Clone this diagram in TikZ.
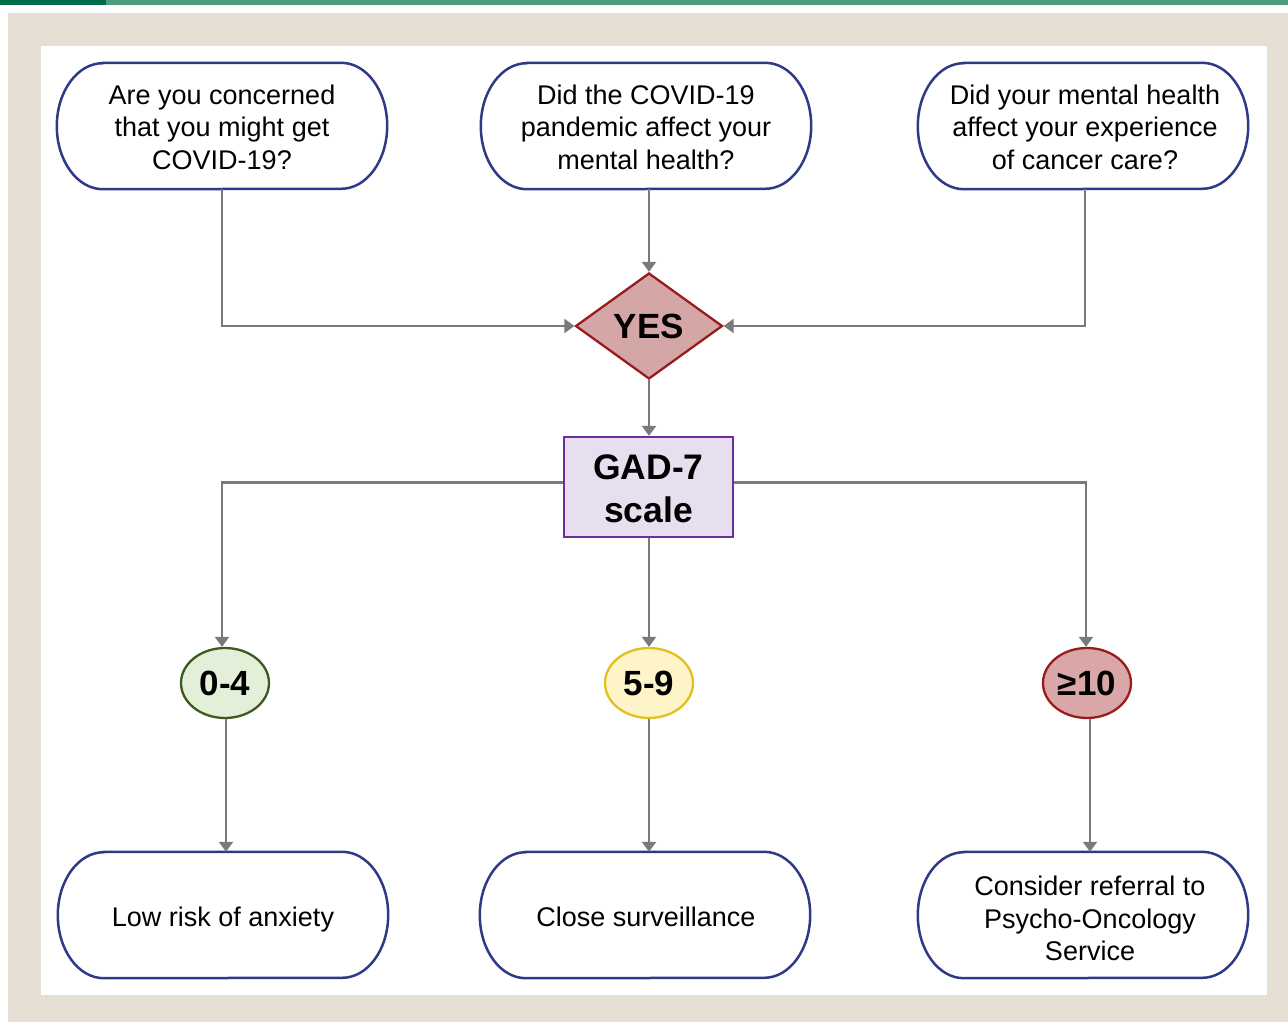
\documentclass[tikz,border=0pt]{standalone}
\usepackage{fontspec}
\setmainfont{Liberation Sans}
\usetikzlibrary{shapes.geometric,arrows.meta}
\definecolor{beige}{RGB}{230,224,212}
\definecolor{dkgreen}{RGB}{0,107,71}
\definecolor{ltgreen}{RGB}{77,156,127}
\definecolor{navy}{RGB}{47,58,135}
\definecolor{conngray}{RGB}{122,122,122}
\definecolor{dredfill}{RGB}{212,166,166}
\definecolor{dred}{RGB}{154,27,27}
\definecolor{gadfill}{RGB}{231,222,240}
\definecolor{gadline}{RGB}{107,47,160}
\definecolor{gfill}{RGB}{227,239,217}
\definecolor{gline}{RGB}{61,90,30}
\definecolor{yfill}{RGB}{253,244,200}
\definecolor{yline}{RGB}{226,192,31}
\definecolor{rfill}{RGB}{217,167,167}
\tikzset{
  qbox/.style={rectangle,draw=none,minimum width=330pt,minimum height=126pt,inner sep=0pt},
  qtext/.style={inner sep=0pt,align=center,font=\fontsize{27}{32.5}\selectfont},
  stext/.style={inner sep=0pt,anchor=base,font=\fontsize{27}{32.5}\selectfont},
  conn/.style={draw=conngray,line width=2.3pt,-{Triangle[width=14pt,length=10pt]}},
  stadline/.style={draw=navy,line width=2.5pt,fill=white},
  score/.style={ellipse,minimum width=88pt,minimum height=70pt,inner sep=0pt,line width=2.3pt,
    font=\fontsize{35}{40}\selectfont\bfseries},
}
\newcommand{\stadium}[1]{%
  \path[stadline] ([xshift=46pt]#1.north west) -- ([xshift=-46pt]#1.north east)
    arc[start angle=90,end angle=-90,x radius=46pt,y radius=63pt]
    -- ([xshift=46pt]#1.south west)
    arc[start angle=270,end angle=90,x radius=46pt,y radius=63pt] -- cycle;}
\begin{document}
\begin{tikzpicture}[x=1pt,y=-1pt]
\useasboundingbox (0,0) rectangle (1288,1022);
\fill[white] (0,0) rectangle (1288,1022);
\fill[ltgreen] (0,0) rectangle (1288,4.7);
\fill[dkgreen] (0,0) rectangle (106,4.7);
\fill[beige] (8,13) rectangle (1288,1022);
\fill[white] (41,46) rectangle (1267,995);

% question boxes
\node[qbox] (q1) at (222,126) {};
\node[qbox] (q2) at (646,126) {};
\node[qbox] (q3) at (1083,126) {};
\node[qbox] (r1) at (223,915) {};
\node[qbox] (r2) at (645,915) {};
\node[qbox] (r3) at (1083,915) {};
\foreach \n in {q1,q2,q3,r1,r2,r3} {\stadium{\n}}
\node[qtext] (t1) at ([yshift=-1pt]q1.center) {Are you concerned\\that you might get\\COVID-19?};
\node[qtext] (t2) at ([yshift=-1pt]q2.center) {Did the COVID-19\\pandemic affect your\\mental health?};
\node[qtext] (t3) at ([xshift=2pt,yshift=-1pt]q3.center) {Did your mental health\\affect your experience\\of cancer care?};
\node[stext] (t4) at ([yshift=-11pt]r1.center) {Low risk of anxiety};
\node[stext] (t5) at ([xshift=1pt,yshift=-11pt]r2.center) {Close surveillance};
\node[qtext] (t6) at ([xshift=7pt,yshift=-3.5pt]r3.center) {Consider referral to\\Psycho-Oncology\\Service};

% decision
\node[diamond,aspect=1.387,minimum width=147pt,minimum height=106pt,inner sep=0pt,
  draw=dred,fill=dredfill,line width=2.3pt,font=\fontsize{35}{40}\selectfont\bfseries] (yes) at (649,326) {YES};
\node[rectangle,minimum width=169pt,minimum height=100pt,inner sep=0pt,draw=gadline,fill=gadfill,
  line width=2.3pt] (gad) at (648.5,487) {};
\node[inner sep=0pt,align=center,font=\fontsize{35.5}{43}\selectfont\bfseries] (gadt) at ([yshift=-2pt]gad.center) {GAD-7\\scale};

% scores
\node[score,draw=gline,fill=gfill] (e1) at (225,683) {0-4};
\node[score,draw=yline,fill=yfill] (e2) at (649,683) {5-9};
\node[score,draw=dred,fill=rfill] (e3) at (1087,683) {≥10};

% connectors
\draw[conn] (q1.south) |- (yes.west);
\draw[conn] (q2.south -| yes.north) -- (yes.north);
\draw[conn] ([xshift=2pt]q3.south) |- (yes.east);
\draw[conn] (yes.south) -- (yes.south |- gad.north);
\draw[conn] ([yshift=4.5pt]gad.west) -| ([xshift=-3pt]e1.north);
\draw[conn] (gad.south -| e2.north) -- (e2.north);
\draw[conn] ([yshift=4.5pt]gad.east) -| ([xshift=-1pt]e3.north);
\draw[conn] ([xshift=1pt]e1.south) -- ([xshift=1pt]e1.south |- r1.north);
\draw[conn] (e2.south) -- (e2.south |- r2.north);
\draw[conn] ([xshift=3pt]e3.south) -- ([xshift=3pt]e3.south |- r3.north);
\end{tikzpicture}
\end{document}
